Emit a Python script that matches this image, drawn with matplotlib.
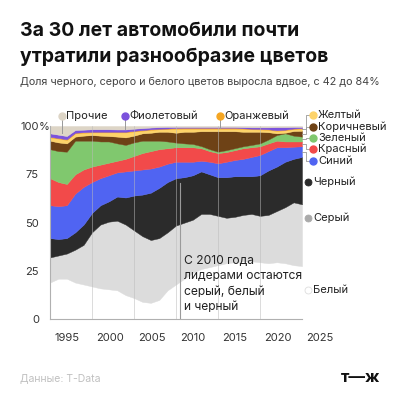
import matplotlib
matplotlib.use("Agg")
import matplotlib.pyplot as plt
from matplotlib.transforms import ScaledTranslation

plt.rcParams['font.family'] = ['Inter', 'DejaVu Sans']

years = list(range(1995, 2026))

# shares, % of cars sold (bottom to top)
white = [19, 21, 21, 19, 18, 17, 16, 15.5, 15, 12.5, 11, 9, 8.5, 10, 15, 18,
         21, 24, 26, 27, 28, 29, 29.5, 30, 30, 29.5, 29, 29.5, 29, 28, 27.5]
gray = [13, 12, 13, 17, 20.5, 28, 33, 35, 36, 36.5, 35, 34, 32.5, 32, 30, 30.5,
        29, 27.5, 28.5, 27.5, 25.5, 23.5, 23.5, 24, 24.5, 24, 25, 26.5, 29, 32.5, 32]
black = [10, 8.5, 8, 9, 10.5, 10, 10, 10.5, 12.5, 14, 18, 21.5, 24.5, 26, 26, 24.5,
         23.5, 23, 22, 20.5, 20, 21, 21, 20, 19.5, 21, 23, 23, 23.5, 22.5, 24.5]
blue = [17, 17, 17, 20, 19.5, 16, 14, 13.5, 12.5, 13.5, 13, 13, 12.5, 11, 9.5, 8.5,
        8, 7, 5.5, 6.5, 7.2, 8, 8.4, 9, 10, 10.5, 10, 10, 7.5, 6.3, 5.5]
red = [14, 12.5, 11, 10, 9, 8, 7, 6.5, 6, 6.5, 7.5, 8.5, 9, 9, 8, 7.5,
       7.5, 7.5, 6.5, 5.5, 5.3, 5, 5.1, 5.5, 5, 4.5, 4, 3.4, 3, 2.7, 2.5]
green = [15, 16, 16.7, 17.4, 14.9, 13.4, 12, 11, 9, 7.2, 7, 6.4, 5.4, 4.4, 3.5, 2.4,
         2, 1.7, 1.1, 1, 0.7, 1, 1, 1, 1.2, 1.5, 2, 2.9, 4.2, 3, 2.5]
brown = [4.4, 4.5, 4.3, 2.1, 2.6, 2.9, 3, 2.8, 3.5, 3.9, 3.5, 3.8, 4.1, 4.6, 5, 5.1,
         6, 6.3, 7.7, 9.3, 10.6, 9.8, 8.8, 7.5, 6.8, 6, 3.8, 0.9, 0.3, 2.4, 3]
yellow = [1.7, 2, 1.8, 1.7, 1.5, 1.4, 1.7, 1.9, 2.2, 2.6, 2.2, 1.4, 1.5, 1.3, 1.4, 2,
          1.6, 1.6, 1.3, 1.3, 1.3, 1.3, 1.3, 1.5, 1.3, 1.2, 1.2, 1.3, 1.3, 1, 1.1]
orange = [0.3, 0.3, 0.3, 0.3, 0.3, 0.3, 0.3, 0.3, 0.3, 0.3, 0.3, 0.3, 0.3, 0.3, 0.3, 0.5,
          0.5, 0.5, 0.5, 0.5, 0.5, 0.5, 0.5, 0.3, 0.3, 0.3, 0.3, 0.3, 0.3, 0.3, 0.3]
purple = [1.8, 1.7, 1.7, 1.4, 1.3, 1.3, 1.3, 1.3, 1.2, 1.2, 1.1, 1.0, 0.9, 0.8, 0.8, 0.5,
          0.4, 0.4, 0.4, 0.4, 0.4, 0.4, 0.4, 0.6, 0.7, 0.8, 1.0, 1.6, 1.3, 0.8, 0.6]
other = [3.8, 4.5, 5.2, 2.1, 1.9, 1.7, 1.7, 1.7, 1.8, 1.8, 1.4, 1.1, 0.8, 0.6, 0.5, 0.5,
         0.5, 0.5, 0.5, 0.5, 0.5, 0.5, 0.5, 0.6, 0.7, 0.7, 0.7, 0.6, 0.6, 0.5, 0.5]

series = [white, gray, black, blue, red, green, brown, yellow, orange, purple, other]
colors = ['#ffffff', '#dcdcdc', '#2b2b2b', '#5064f2', '#f24a4a', '#80c86e',
          '#6e4216', '#fdd36a', '#f5a623', '#7b52dc', '#ddd5c6']

fig = plt.figure(figsize=(4, 4), dpi=100)
ax = fig.add_axes([0.125, 0.2018, 0.63, 0.4832])

polys = ax.stackplot(years, *series, colors=colors)
for p, c in zip(polys, colors):
    p.set_edgecolor(c)
    p.set_linewidth(0.3)

ax.set_xlim(1995, 2025)
ax.set_ylim(0, 100)

# vertical grid over the areas
for yr in range(2000, 2026, 5):
    ax.axvline(yr, color='#bbbbbb', lw=0.6, alpha=0.6, zorder=3)

for s in ['top', 'right']:
    ax.spines[s].set_visible(False)
ax.spines['left'].set_color('#b0b0b0')
ax.spines['bottom'].set_color('#b0b0b0')
ax.spines['left'].set_linewidth(0.8)
ax.spines['bottom'].set_linewidth(0.8)
ax.spines['left'].set_zorder(4)

ax.set_xticks(range(1995, 2026, 5))
ax.set_yticks([0, 25, 50, 75, 100])
ax.set_yticklabels(['0', '25', '50', '75', '100'])
ax.tick_params(axis='both', length=0, labelsize=8, colors='#333333')
ax.tick_params(axis='x', pad=10)
ax.tick_params(axis='y', pad=8)
for lbl in ax.get_xticklabels():
    lbl.set_ha('left')
    lbl.set_transform(lbl.get_transform() + ScaledTranslation(3 / 72, 0, fig.dpi_scale_trans))
ax.annotate('%', xy=(0, 100), xycoords=('axes fraction', 'data'), xytext=(-8.2, 0),
            textcoords='offset points', ha='left', va='center_baseline', fontsize=8,
            color='#333333')

# top labels
top_labels = [('Прочие', 1996.4, 96.5, '#ddd5c6'),
              ('Фиолетовый', 2003.9, 98.4, '#7b52dc'),
              ('Оранжевый', 2015.2, 98.9, '#f5a623')]
for name, x, y0, c in top_labels:
    ax.plot([x, x], [y0, 105.2], color='#999999', lw=0.7, clip_on=False, zorder=5)
    ax.plot([x], [105.2], 'o', ms=5, color=c, clip_on=False, zorder=6)
    ax.text(x + 0.55, 105.2, name, fontsize=8, va='center', ha='left', color='#222222')

# right labels with elbow connectors
right_labels = [('Желтый', 98.2, 105.7, '#fdd36a'),
                ('Коричневый', 96.0, 99.6, '#6e4216'),
                ('Зеленый', 93.2, 93.6, '#80c86e'),
                ('Красный', 90.8, 88.1, '#f24a4a'),
                ('Синий', 86.8, 81.9, '#5064f2')]
for name, y0, y1, c in right_labels:
    ax.plot([2025, 2025.5, 2025.5, 2026.1], [y0, y0, y1, y1], color='#999999',
            lw=0.6, clip_on=False, zorder=5)
    ax.plot([2026.3], [y1], 'o', ms=5, color=c, clip_on=False, zorder=6)
    ax.text(2026.9, y1, name, fontsize=8, va='center', ha='left', color='#222222')

side_labels = [('Черный', 70.9, '#2b2b2b', '#2b2b2b'),
               ('Серый', 52.4, '#aaaaaa', '#aaaaaa'),
               ('Белый', 15.2, '#ffffff', '#dddddd')]
for name, y1, c, ec in side_labels:
    ax.plot([2025.75], [y1], 'o', ms=5, color=c, mec=ec, mew=0.6, clip_on=False, zorder=6)
    ax.text(2026.35, y1, name, fontsize=8, va='center', ha='left', color='#222222')

# annotation
ax.plot([2010.5, 2010.5], [70.5, 0.5], color='#9a9a9a', lw=0.8, zorder=5)
ax.text(2011.0, 33.5, 'С 2010 года\nлидерами остаются\nсерый, белый\nи черный',
        fontsize=8.7, va='top', ha='left', color='#222222', linespacing=1.4, zorder=6)

fig.text(0.05, 0.9225, 'За 30 лет автомобили почти', fontsize=14, fontweight='bold',
         va='center', ha='left', color='#111111')
fig.text(0.05, 0.8575, 'утратили разнообразие цветов', fontsize=14, fontweight='bold',
         va='center', ha='left', color='#111111')
fig.text(0.05, 0.795, 'Доля черного, серого и белого цветов выросла вдвое, с 42 до 84%',
         fontsize=7.8, va='center', ha='left', color='#444444')
fig.text(0.05, 0.055, 'Данные: T-Data', fontsize=7.5, va='center', ha='left', color='#c0c0c0')
fig.text(0.95, 0.055, 'т—ж', fontsize=12, fontweight='bold', va='center', ha='right',
         color='#111111')

fig.savefig('out.png', dpi=100, facecolor='white')
